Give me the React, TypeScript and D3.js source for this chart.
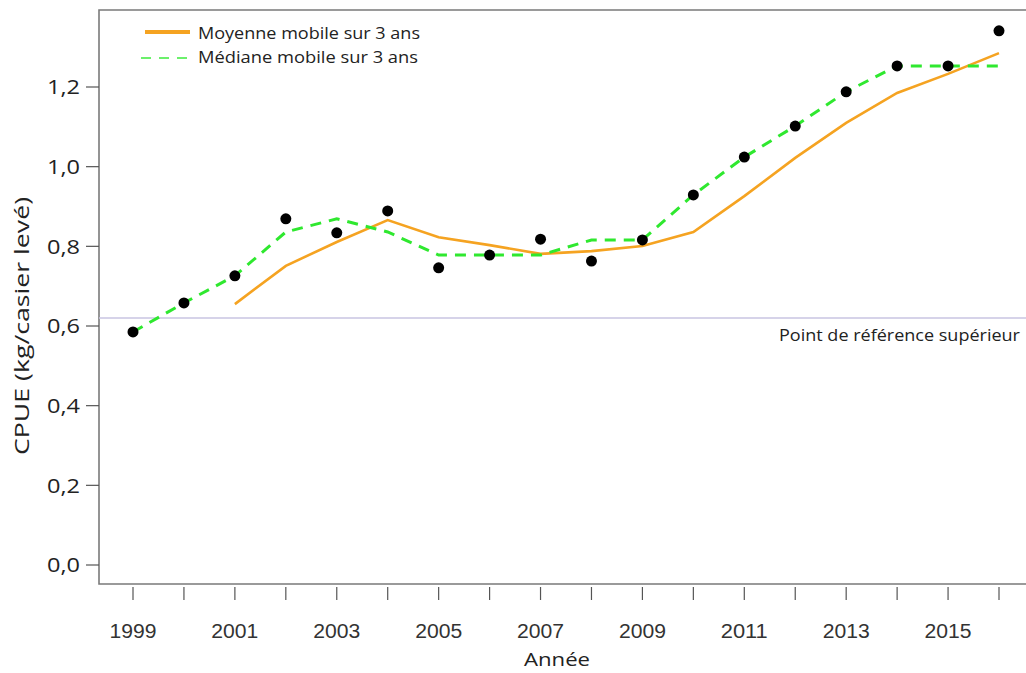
import React, { useRef, useEffect } from 'react';
import * as d3 from 'd3';

const years = [1999, 2000, 2001, 2002, 2003, 2004, 2005, 2006, 2007, 2008, 2009, 2010, 2011, 2012, 2013, 2014, 2015, 2016];
const cpue = [0.585, 0.658, 0.726, 0.869, 0.834, 0.889, 0.746, 0.778, 0.818, 0.763, 0.816, 0.929, 1.024, 1.102, 1.188, 1.253, 1.253, 1.341];

const meanYears = [2001, 2002, 2003, 2004, 2005, 2006, 2007, 2008, 2009, 2010, 2011, 2012, 2013, 2014, 2015, 2016];
const meanValues = [0.655, 0.751, 0.811, 0.866, 0.823, 0.803, 0.781, 0.788, 0.801, 0.836, 0.926, 1.022, 1.110, 1.185, 1.233, 1.285];

const medianYears = [1999, 2000, 2001, 2002, 2003, 2004, 2005, 2006, 2007, 2008, 2009, 2010, 2011, 2012, 2013, 2014, 2015, 2016];
const medianValues = [0.585, 0.658, 0.726, 0.836, 0.869, 0.836, 0.778, 0.778, 0.778, 0.816, 0.816, 0.929, 1.024, 1.102, 1.188, 1.253, 1.253, 1.253];

const yTicks = [0, 0.2, 0.4, 0.6, 0.8, 1.0, 1.2];
const xLabelYears = [1999, 2001, 2003, 2005, 2007, 2009, 2011, 2013, 2015];
const referencePoint = 0.62;

const legendLabels = ['Moyenne mobile sur 3 ans', 'Médiane mobile sur 3 ans'];

const App: React.FC = () => {
  const ref = useRef<SVGSVGElement | null>(null);

  useEffect(() => {
    if (!ref.current) return;
    const svg = d3.select(ref.current);
    svg.selectAll('*').remove();

    const width = 1026;
    const left = 99;
    const top = 10;
    const bottom = 584;
    const myriad = '"Open Sans", "Noto Sans", sans-serif';

    const x = d3.scaleLinear().domain([1999, 2016]).range([133, 999]);
    const y = d3.scaleLinear().domain([0, 1.2]).range([565, 87]);

    // frame
    svg.append('path')
      .attr('d', `M${width},${top}H${left}V${bottom}H${width}`)
      .attr('fill', 'none')
      .attr('stroke', '#7a7a7a')
      .attr('stroke-width', 1.6);

    // y axis ticks + labels
    const yg = svg.append('g');
    yg.selectAll('line')
      .data(yTicks)
      .join('line')
      .attr('x1', left - 13)
      .attr('x2', left)
      .attr('y1', d => y(d))
      .attr('y2', d => y(d))
      .attr('stroke', '#555')
      .attr('stroke-width', 1.2);
    yg.selectAll('text')
      .data(yTicks)
      .join('text')
      .attr('x', left - 19)
      .attr('y', d => y(d))
      .attr('dy', '0.36em')
      .attr('text-anchor', 'end')
      .attr('font-family', myriad)
      .attr('font-size', 20)
      .attr('fill', '#222')
      .attr('textLength', 33)
      .attr('lengthAdjust', 'spacingAndGlyphs')
      .text(d => d3.format('.1f')(d).replace('.', ','));

    // x axis ticks + labels
    const xg = svg.append('g');
    xg.selectAll('line')
      .data(years)
      .join('line')
      .attr('x1', d => x(d))
      .attr('x2', d => x(d))
      .attr('y1', bottom + 3)
      .attr('y2', bottom + 16)
      .attr('stroke', '#555')
      .attr('stroke-width', 1.2);
    xg.selectAll('text')
      .data(xLabelYears)
      .join('text')
      .attr('x', d => x(d))
      .attr('y', 638)
      .attr('text-anchor', 'middle')
      .attr('font-family', '"Liberation Sans", Arial, sans-serif')
      .attr('font-size', 20)
      .attr('fill', '#333')
      .attr('textLength', 47)
      .attr('lengthAdjust', 'spacingAndGlyphs')
      .text(d => String(d));

    // axis titles
    svg.append('text')
      .attr('x', 557)
      .attr('y', 666)
      .attr('text-anchor', 'middle')
      .attr('font-family', myriad)
      .attr('font-size', 19)
      .attr('fill', '#222')
      .attr('textLength', 66)
      .attr('lengthAdjust', 'spacingAndGlyphs')
      .text('Année');
    svg.append('text')
      .attr('transform', `translate(29,${326}) rotate(-90)`)
      .attr('text-anchor', 'middle')
      .attr('font-family', myriad)
      .attr('font-size', 20)
      .attr('fill', '#222')
      .attr('textLength', 258)
      .attr('lengthAdjust', 'spacingAndGlyphs')
      .text('CPUE (kg/casier levé)');

    // reference line
    svg.append('line')
      .attr('x1', left)
      .attr('x2', width)
      .attr('y1', y(referencePoint))
      .attr('y2', y(referencePoint))
      .attr('stroke', '#c9c5e2')
      .attr('stroke-width', 1.5);
    svg.append('text')
      .attr('x', 1020)
      .attr('y', y(referencePoint) + 23)
      .attr('text-anchor', 'end')
      .attr('font-family', myriad)
      .attr('font-size', 17)
      .attr('fill', '#222')
      .attr('textLength', 241)
      .attr('lengthAdjust', 'spacingAndGlyphs')
      .text('Point de référence supérieur');

    // mean line
    const meanLine = d3.line<number>()
      .x((_, i) => x(meanYears[i]))
      .y(d => y(d));
    svg.append('path')
      .datum(meanValues)
      .attr('d', meanLine)
      .attr('fill', 'none')
      .attr('stroke', '#f5a321')
      .attr('stroke-width', 2.6);

    // median line
    const medianLine = d3.line<number>()
      .x((_, i) => x(medianYears[i]))
      .y(d => y(d));
    svg.append('path')
      .datum(medianValues)
      .attr('d', medianLine)
      .attr('fill', 'none')
      .attr('stroke', '#2fe82f')
      .attr('stroke-width', 3)
      .attr('stroke-dasharray', '11,8');

    // points
    svg.append('g')
      .selectAll('circle')
      .data(cpue)
      .join('circle')
      .attr('cx', (_, i) => x(years[i]))
      .attr('cy', d => y(d))
      .attr('r', 5.5)
      .attr('fill', '#000');

    // legend
    const lg = svg.append('g');
    lg.append('line')
      .attr('x1', 145).attr('x2', 190)
      .attr('y1', 32).attr('y2', 32)
      .attr('stroke', '#f5a321')
      .attr('stroke-width', 4);
    lg.append('line')
      .attr('x1', 141).attr('x2', 192)
      .attr('y1', 58).attr('y2', 58)
      .attr('stroke', '#6cf06c')
      .attr('stroke-width', 2)
      .attr('stroke-dasharray', '10,8');
    lg.selectAll('text')
      .data(legendLabels)
      .join('text')
      .attr('x', 198)
      .attr('y', (_, i) => 33 + i * 24)
      .attr('dy', '0.35em')
      .attr('font-family', myriad)
      .attr('font-size', 17)
      .attr('fill', '#222')
      .attr('textLength', (_, i) => (i === 0 ? 222 : 220))
      .attr('lengthAdjust', 'spacingAndGlyphs')
      .text(d => d);
  }, []);

  return (
    <svg
      ref={ref}
      width={1026}
      height={673}
      style={{ position: 'absolute', left: 0, top: 0, background: '#fff' }}
    />
  );
};

export default App;
